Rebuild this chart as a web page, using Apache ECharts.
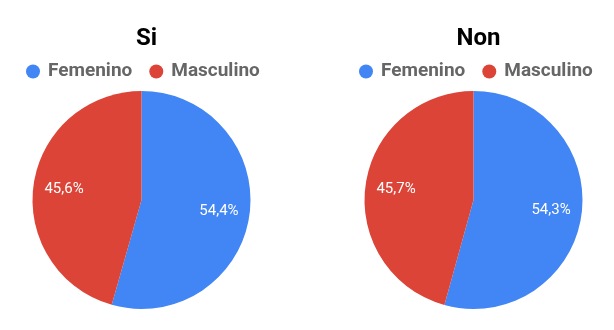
<!DOCTYPE html>
<html><head><meta charset="utf-8">
<script src="https://cdn.jsdelivr.net/npm/echarts@6/dist/echarts.min.js"></script>
<style>html,body{margin:0;padding:0;background:#fff}#c{width:614px;height:330px}</style>
</head><body><div id="c"></div>
<script>
const categories = ['Femenino', 'Masculino'];
const chartTitles = ['Si', 'Non'];
const siValues = [54.4, 45.6];
const nonValues = [54.3, 45.7];
const colors = ['#4285F4', '#DB4437'];

const centersX = [141.5, 473.5];
const legendLefts = [26, 359];
const R = 109;
const valueSets = [siValues, nonValues];

const chart = echarts.init(document.getElementById('c'));
const fmt = p => p.value.toFixed(1).replace('.', ',') + '%';
const series = [];
valueSets.forEach((vals, i) => {
  const data = categories.map((n, k) => ({name: n, value: vals[k]}));
  series.push({
    type: 'pie', center: [centersX[i], 200], radius: [0, R],
    startAngle: 90, clockwise: true, silent: true, animation: false,
    data: data, label: {show: false}, labelLine: {show: false},
    itemStyle: {borderWidth: 0}
  });
  series.push({
    type: 'pie', center: [centersX[i], 200], radius: [R * 0.38, R],
    startAngle: 90, clockwise: true, silent: true, animation: false,
    legendHoverLink: false,
    data: data.map(d => ({name: d.name + '_l', value: d.value})),
    itemStyle: {color: 'rgba(0,0,0,0)'},
    label: {show: true, position: 'inside', formatter: fmt, color: '#fff',
      fontSize: 15, fontFamily: 'Roboto'},
    labelLine: {show: false}
  });
});

chart.setOption({
  color: colors,
  title: chartTitles.map((t, i) => ({
    text: t, left: centersX[i], top: 22, textAlign: 'center',
    textStyle: {fontFamily: 'Roboto', fontSize: 24, fontWeight: 'bold', color: '#000'}
  })),
  legend: legendLefts.map((x, i) => ({
    data: categories, left: x, top: 62, width: 300, padding: 0, orient: 'horizontal',
    icon: 'circle', itemWidth: 14, itemHeight: 14, itemGap: 17,
    selectedMode: false,
    textStyle: {fontFamily: 'Roboto', fontSize: 19, fontWeight: 'bold', color: '#666', padding: [0, 0, 0, 3]}
  })),
  series: series
});
</script></body></html>
